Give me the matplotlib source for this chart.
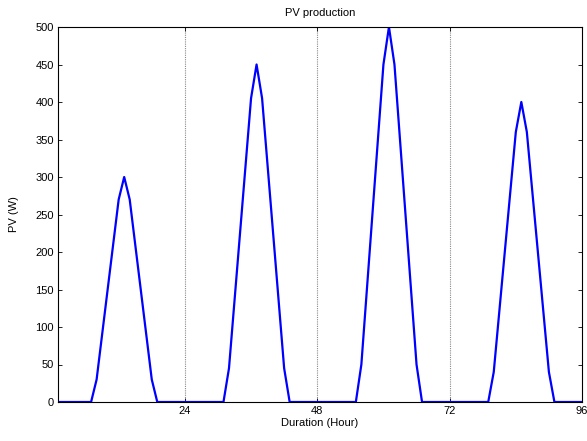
import matplotlib
matplotlib.use("Agg")
import matplotlib.pyplot as plt

plt.rcParams["font.family"] = ["Liberation Sans", "DejaVu Sans"]
plt.rcParams["font.size"] = 8

# hourly PV output (W), one list per day, hours 1..24
day1 = [0, 0, 0, 0, 0, 0, 0, 30, 90, 150, 210, 270, 300, 270, 210, 150, 90, 30, 0, 0, 0, 0, 0, 0]
day2 = [0, 0, 0, 0, 0, 0, 0, 45, 135, 225, 315, 405, 450, 405, 315, 225, 135, 45, 0, 0, 0, 0, 0, 0]
day3 = [0, 0, 0, 0, 0, 0, 0, 50, 150, 250, 350, 450, 500, 450, 350, 250, 150, 50, 0, 0, 0, 0, 0, 0]
day4 = [0, 0, 0, 0, 0, 0, 0, 40, 120, 200, 280, 360, 400, 360, 280, 200, 120, 40, 0, 0, 0, 0, 0, 0]
pv = day1 + day2 + day3 + day4
hours = list(range(1, len(pv) + 1))

x_ticks = [24, 48, 72, 96]
y_ticks = list(range(0, 501, 50))

fig = plt.figure(figsize=(5.87, 4.41), dpi=100)
ax = fig.add_axes([58 / 587, 39 / 441, 524 / 587, 375 / 441])

# dotted day separators (MATLAB-style x grid)
for x in x_ticks[:-1]:
    ax.axvline(x, color="#8a8a8a", lw=0.8, ls=(0, (1, 1)), zorder=1)
ax.plot(hours, pv, color="#0000ff", lw=1.6, zorder=2)

ax.set_xlim(1, 96)
ax.set_ylim(0, 500)
ax.set_xticks(x_ticks)
ax.set_yticks(y_ticks)
ax.tick_params(direction="in", top=True, right=True, length=3, width=0.6, pad=3)
for s in ax.spines.values():
    s.set_linewidth(0.8)

ax.set_title("PV production", fontsize=8, pad=8)
ax.set_xlabel("Duration (Hour)", labelpad=1)
ax.set_ylabel("PV (W)", labelpad=12)

fig.savefig("out.png", dpi=100)
plt.close(fig)
